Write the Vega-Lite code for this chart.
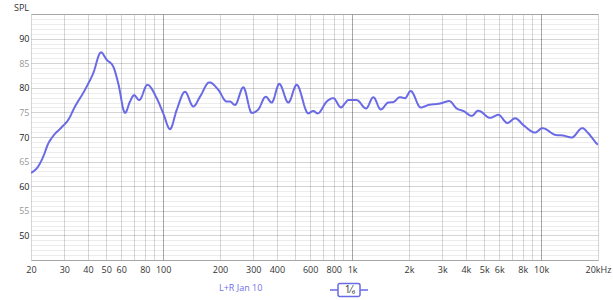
{
  "$schema": "https://vega.github.io/schema/vega-lite/v6.json",
  "width": 567,
  "height": 246,
  "autosize": {"type": "none"},
  "padding": {"left": 31, "top": 14, "right": 15, "bottom": 40},
  "background": "white",
  "config": {
    "font": "Open Sans",
    "view": {"stroke": "#c8c8c8", "strokeWidth": 1}
  },
  "data": {
    "values": [
      {"f": 20, "spl": 62.7, "series": "L+R Jan 10", "smooth": "1⁄₆"},
      {"f": 21.9, "spl": 64.1, "series": "L+R Jan 10", "smooth": "1⁄₆"},
      {"f": 23.2, "spl": 66.0, "series": "L+R Jan 10", "smooth": "1⁄₆"},
      {"f": 24.7, "spl": 68.7, "series": "L+R Jan 10", "smooth": "1⁄₆"},
      {"f": 26.2, "spl": 70.2, "series": "L+R Jan 10", "smooth": "1⁄₆"},
      {"f": 29.1, "spl": 72.0, "series": "L+R Jan 10", "smooth": "1⁄₆"},
      {"f": 31.5, "spl": 73.5, "series": "L+R Jan 10", "smooth": "1⁄₆"},
      {"f": 34.2, "spl": 76.2, "series": "L+R Jan 10", "smooth": "1⁄₆"},
      {"f": 38.6, "spl": 79.6, "series": "L+R Jan 10", "smooth": "1⁄₆"},
      {"f": 42.7, "spl": 83.0, "series": "L+R Jan 10", "smooth": "1⁄₆"},
      {"f": 46.9, "spl": 87.2, "series": "L+R Jan 10", "smooth": "1⁄₆"},
      {"f": 50.3, "spl": 85.7, "series": "L+R Jan 10", "smooth": "1⁄₆"},
      {"f": 54.5, "spl": 84.3, "series": "L+R Jan 10", "smooth": "1⁄₆"},
      {"f": 57.9, "spl": 80.9, "series": "L+R Jan 10", "smooth": "1⁄₆"},
      {"f": 62.9, "spl": 74.9, "series": "L+R Jan 10", "smooth": "1⁄₆"},
      {"f": 66.8, "spl": 77.2, "series": "L+R Jan 10", "smooth": "1⁄₆"},
      {"f": 70.2, "spl": 78.5, "series": "L+R Jan 10", "smooth": "1⁄₆"},
      {"f": 74.8, "spl": 77.5, "series": "L+R Jan 10", "smooth": "1⁄₆"},
      {"f": 82.5, "spl": 80.6, "series": "L+R Jan 10", "smooth": "1⁄₆"},
      {"f": 92.5, "spl": 77.9, "series": "L+R Jan 10", "smooth": "1⁄₆"},
      {"f": 100.2, "spl": 74.8, "series": "L+R Jan 10", "smooth": "1⁄₆"},
      {"f": 108.8, "spl": 71.6, "series": "L+R Jan 10", "smooth": "1⁄₆"},
      {"f": 118, "spl": 75.5, "series": "L+R Jan 10", "smooth": "1⁄₆"},
      {"f": 130.6, "spl": 79.2, "series": "L+R Jan 10", "smooth": "1⁄₆"},
      {"f": 144.5, "spl": 76.2, "series": "L+R Jan 10", "smooth": "1⁄₆"},
      {"f": 156.8, "spl": 78.2, "series": "L+R Jan 10", "smooth": "1⁄₆"},
      {"f": 175.6, "spl": 81.1, "series": "L+R Jan 10", "smooth": "1⁄₆"},
      {"f": 195.9, "spl": 79.6, "series": "L+R Jan 10", "smooth": "1⁄₆"},
      {"f": 217, "spl": 77.2, "series": "L+R Jan 10", "smooth": "1⁄₆"},
      {"f": 226, "spl": 77.2, "series": "L+R Jan 10", "smooth": "1⁄₆"},
      {"f": 240, "spl": 76.5, "series": "L+R Jan 10", "smooth": "1⁄₆"},
      {"f": 265.7, "spl": 80.1, "series": "L+R Jan 10", "smooth": "1⁄₆"},
      {"f": 294.4, "spl": 74.9, "series": "L+R Jan 10", "smooth": "1⁄₆"},
      {"f": 319, "spl": 75.6, "series": "L+R Jan 10", "smooth": "1⁄₆"},
      {"f": 349, "spl": 78.2, "series": "L+R Jan 10", "smooth": "1⁄₆"},
      {"f": 375.4, "spl": 77.0, "series": "L+R Jan 10", "smooth": "1⁄₆"},
      {"f": 412, "spl": 80.8, "series": "L+R Jan 10", "smooth": "1⁄₆"},
      {"f": 459.6, "spl": 77.0, "series": "L+R Jan 10", "smooth": "1⁄₆"},
      {"f": 509, "spl": 80.6, "series": "L+R Jan 10", "smooth": "1⁄₆"},
      {"f": 586, "spl": 74.8, "series": "L+R Jan 10", "smooth": "1⁄₆"},
      {"f": 623, "spl": 75.3, "series": "L+R Jan 10", "smooth": "1⁄₆"},
      {"f": 657.6, "spl": 74.8, "series": "L+R Jan 10", "smooth": "1⁄₆"},
      {"f": 733.8, "spl": 77.2, "series": "L+R Jan 10", "smooth": "1⁄₆"},
      {"f": 795, "spl": 77.9, "series": "L+R Jan 10", "smooth": "1⁄₆"},
      {"f": 873.6, "spl": 76.0, "series": "L+R Jan 10", "smooth": "1⁄₆"},
      {"f": 917, "spl": 76.85, "series": "L+R Jan 10", "smooth": "1⁄₆"},
      {"f": 954.6, "spl": 77.5, "series": "L+R Jan 10", "smooth": "1⁄₆"},
      {"f": 1058, "spl": 77.5, "series": "L+R Jan 10", "smooth": "1⁄₆"},
      {"f": 1185, "spl": 75.8, "series": "L+R Jan 10", "smooth": "1⁄₆"},
      {"f": 1295, "spl": 78.1, "series": "L+R Jan 10", "smooth": "1⁄₆"},
      {"f": 1417, "spl": 75.6, "series": "L+R Jan 10", "smooth": "1⁄₆"},
      {"f": 1554, "spl": 77.0, "series": "L+R Jan 10", "smooth": "1⁄₆"},
      {"f": 1652, "spl": 77.1, "series": "L+R Jan 10", "smooth": "1⁄₆"},
      {"f": 1792, "spl": 78.1, "series": "L+R Jan 10", "smooth": "1⁄₆"},
      {"f": 1904, "spl": 77.9, "series": "L+R Jan 10", "smooth": "1⁄₆"},
      {"f": 2042, "spl": 79.35, "series": "L+R Jan 10", "smooth": "1⁄₆"},
      {"f": 2306, "spl": 76.0, "series": "L+R Jan 10", "smooth": "1⁄₆"},
      {"f": 2530, "spl": 76.5, "series": "L+R Jan 10", "smooth": "1⁄₆"},
      {"f": 2918, "spl": 76.8, "series": "L+R Jan 10", "smooth": "1⁄₆"},
      {"f": 3268, "spl": 77.3, "series": "L+R Jan 10", "smooth": "1⁄₆"},
      {"f": 3577, "spl": 75.8, "series": "L+R Jan 10", "smooth": "1⁄₆"},
      {"f": 3876, "spl": 75.3, "series": "L+R Jan 10", "smooth": "1⁄₆"},
      {"f": 4294, "spl": 74.3, "series": "L+R Jan 10", "smooth": "1⁄₆"},
      {"f": 4653, "spl": 75.35, "series": "L+R Jan 10", "smooth": "1⁄₆"},
      {"f": 5366, "spl": 73.9, "series": "L+R Jan 10", "smooth": "1⁄₆"},
      {"f": 5937, "spl": 74.5, "series": "L+R Jan 10", "smooth": "1⁄₆"},
      {"f": 6641, "spl": 72.85, "series": "L+R Jan 10", "smooth": "1⁄₆"},
      {"f": 7277, "spl": 73.8, "series": "L+R Jan 10", "smooth": "1⁄₆"},
      {"f": 8121, "spl": 72.3, "series": "L+R Jan 10", "smooth": "1⁄₆"},
      {"f": 9283, "spl": 70.9, "series": "L+R Jan 10", "smooth": "1⁄₆"},
      {"f": 10150, "spl": 71.8, "series": "L+R Jan 10", "smooth": "1⁄₆"},
      {"f": 11990, "spl": 70.4, "series": "L+R Jan 10", "smooth": "1⁄₆"},
      {"f": 13106, "spl": 70.3, "series": "L+R Jan 10", "smooth": "1⁄₆"},
      {"f": 14512, "spl": 69.9, "series": "L+R Jan 10", "smooth": "1⁄₆"},
      {"f": 16520, "spl": 71.8, "series": "L+R Jan 10", "smooth": "1⁄₆"},
      {"f": 17776, "spl": 70.75, "series": "L+R Jan 10", "smooth": "1⁄₆"},
      {"f": 19758, "spl": 68.6, "series": "L+R Jan 10", "smooth": "1⁄₆"},
      {"f": 20000, "spl": 68.4, "series": "L+R Jan 10", "smooth": "1⁄₆"}
    ]
  },
  "mark": {"type": "line", "strokeWidth": 2, "interpolate": "monotone", "clip": true},
  "encoding": {
    "x": {
      "field": "f",
      "type": "quantitative",
      "scale": {"type": "log", "domain": [20, 20000], "nice": false},
      "axis": {
        "title": null,
        "values": [20, 30, 40, 50, 60, 70, 80, 90, 100, 200, 300, 400, 500, 600, 700, 800, 900, 1000, 2000, 3000, 4000, 5000, 6000, 7000, 8000, 9000, 10000, 20000],
        "labelExpr": "datum.value == 20000 ? '20kHz' : (indexof([70, 90, 500, 700, 900, 7000, 9000], datum.value) >= 0 ? '' : (datum.value >= 1000 ? (datum.value / 1000) + 'k' : datum.value + ''))",
        "labelOverlap": false,
        "labelFlush": false,
        "labelBound": false,
        "labelFontSize": 9,
        "labelColor": "#333333",
        "labelPadding": 5,
        "ticks": false,
        "domain": false,
        "grid": true,
        "gridColor": {"condition": {"test": "datum.value == 100 || datum.value == 1000 || datum.value == 10000", "value": "#a8a8a8"}, "value": "#d6d6d6"},
        "gridWidth": 1
      }
    },
    "y": {
      "field": "spl",
      "type": "quantitative",
      "scale": {"domain": [45, 95], "nice": false, "zero": false},
      "axis": {
        "title": "SPL",
        "titleAngle": 0,
        "titleAlign": "center",
        "titleBaseline": "middle",
        "titleX": -10,
        "titleY": -7,
        "titleFontSize": 9,
        "titleFontWeight": "normal",
        "titleColor": "#333333",
        "values": [45, 46, 47, 48, 49, 50, 51, 52, 53, 54, 55, 56, 57, 58, 59, 60, 61, 62, 63, 64, 65, 66, 67, 68, 69, 70, 71, 72, 73, 74, 75, 76, 77, 78, 79, 80, 81, 82, 83, 84, 85, 86, 87, 88, 89, 90, 91, 92, 93, 94, 95],
        "labelExpr": "(datum.value % 5 == 0 && datum.value >= 50 && datum.value <= 90) ? datum.value + '' : ''",
        "labelOverlap": false,
        "labelFlush": false,
        "labelFontSize": 9,
        "labelColor": {"condition": {"test": "datum.value % 10 == 0", "value": "#222222"}, "value": "#999999"},
        "labelPadding": 2,
        "ticks": false,
        "domain": false,
        "grid": true,
        "gridColor": {"condition": {"test": "datum.value % 5 == 0", "value": "rgba(0,0,0,0.17)"}, "value": "rgba(0,0,0,0.075)"},
        "gridWidth": 1
      }
    },
    "color": {
      "field": "series",
      "type": "nominal",
      "scale": {"range": ["#6a6ae6"]},
      "legend": {
        "title": null,
        "orient": "none",
        "legendX": 179,
        "legendY": 269,
        "padding": 0,
        "symbolType": "circle",
        "symbolSize": 0,
        "symbolOpacity": 0,
        "labelOffset": 0,
        "labelFontSize": 9,
        "labelColor": "#7070e8"
      }
    },
    "strokeDash": {
      "field": "smooth",
      "type": "nominal",
      "scale": {"range": [[1, 0]]},
      "legend": {
        "title": null,
        "orient": "none",
        "legendX": 298,
        "legendY": 256,
        "padding": 0,
        "symbolType": "M-1,0L-0.579,0M0.579,0L1,0M-0.47,-0.342L0.47,-0.342Q0.579,-0.342 0.579,-0.232L0.579,0.232Q0.579,0.342 0.47,0.342L-0.47,0.342Q-0.579,0.342 -0.579,0.232L-0.579,-0.232Q-0.579,-0.342 -0.47,-0.342Z",
        "symbolSize": 1444,
        "symbolStrokeColor": "#6a6ae6",
        "symbolFillColor": "white",
        "symbolStrokeWidth": 1.5,
        "labelAlign": "center",
        "labelOffset": -19,
        "labelFontSize": 10,
        "labelColor": "#333333"
      }
    }
  }
}
